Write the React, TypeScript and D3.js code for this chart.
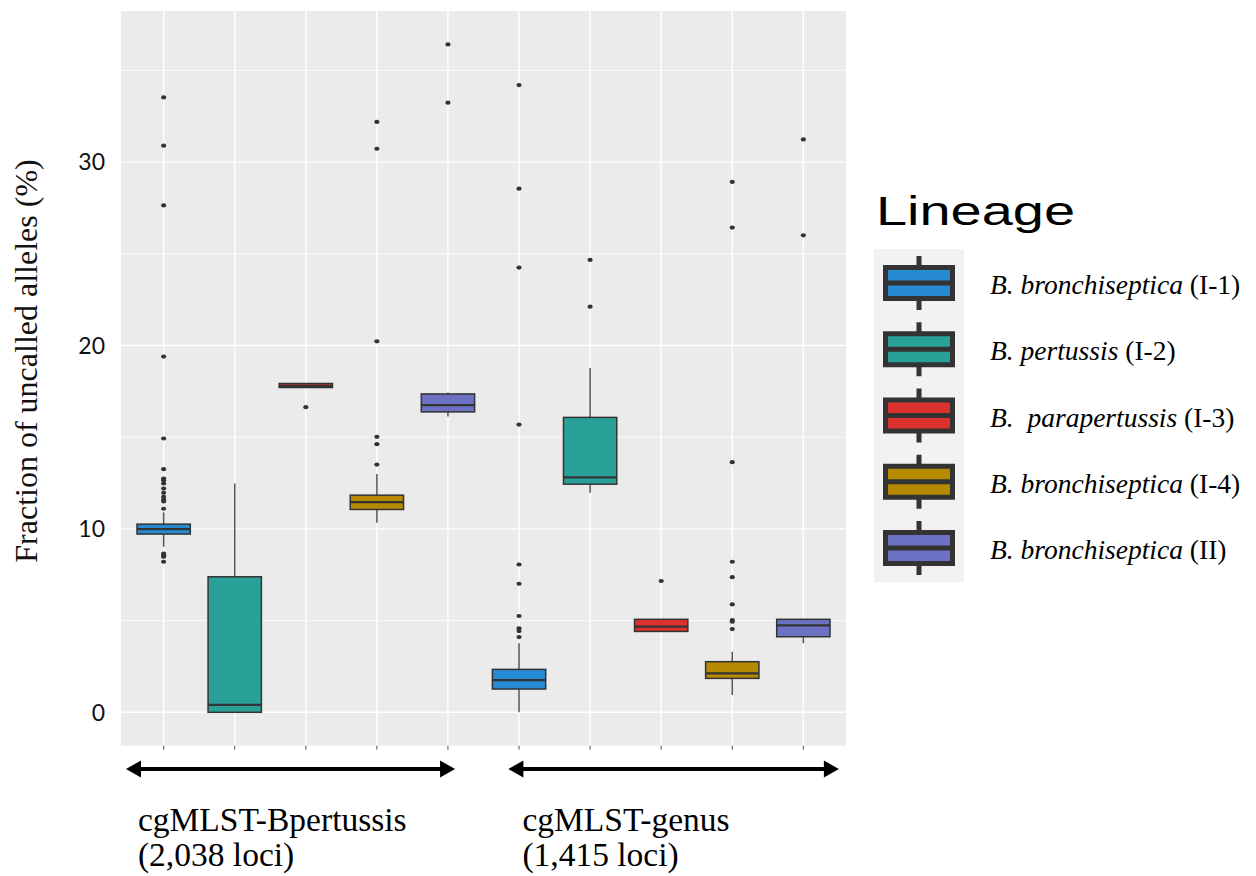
import React, { useRef, useEffect } from 'react';
import * as d3 from 'd3';

// lineages (legend order) and typing schemes
const lineages = ['I-1', 'I-2', 'I-3', 'I-4', 'II'];
const speciesNames = ['B. bronchiseptica', 'B. pertussis', 'B.  parapertussis', 'B. bronchiseptica', 'B. bronchiseptica'];
const lineageColors = ['#268BD2', '#2AA198', '#DC322F', '#B58900', '#6C71C4'];
const schemes = ['cgMLST-Bpertussis', 'cgMLST-genus'];
const schemeLoci = ['(2,038 loci)', '(1,415 loci)'];

// box stats, scheme x lineage order (10 boxes)
const q1Values = [9.72, 0, 17.71, 11.06, 16.38, 1.27, 12.44, 4.41, 1.85, 4.12];
const medianValues = [9.99, 0.4, 17.8, 11.46, 16.75, 1.76, 12.81, 4.67, 2.12, 4.74];
const q3Values = [10.26, 7.39, 17.93, 11.84, 17.36, 2.34, 16.08, 5.07, 2.76, 5.07];
const lowerWhiskers = [9.02, 0, 17.71, 10.33, 16.13, 0, 11.97, 4.41, 0.94, 3.76];
const upperWhiskers = [10.9, 12.48, 17.93, 12.99, 17.44, 3.76, 18.78, 5.07, 3.3, 5.07];
const outlierValues = [
  [8.21, 8.48, 8.57, 8.66, 11.1, 11.5, 11.6, 11.75, 11.97, 12.2, 12.48, 12.66, 12.75, 13.26, 14.93, 19.4, 27.64, 30.9, 33.53],
  [],
  [16.64],
  [13.51, 14.62, 15.02, 20.23, 30.73, 32.19],
  [33.24, 36.42],
  [4.1, 4.43, 4.58, 5.25, 7.01, 8.06, 15.69, 24.25, 28.55, 34.2],
  [22.12, 24.67],
  [7.16],
  [4.54, 4.94, 5.03, 5.88, 7.37, 8.21, 13.64, 26.43, 28.92],
  [26.01, 31.24],
];

const yMajorTicks = [0, 10, 20, 30];
const yMinorTicks = [5, 15, 25, 35];

// arrow extents in category-index units
const schemeSpans = [[-0.53, 4.1], [4.85, 9.5]];

const App = () => {
  const svgRef = useRef(null);

  useEffect(() => {
    const svg = d3.select(svgRef.current);
    svg.selectAll('*').remove();

    const panel = { left: 121, right: 846, top: 11, bottom: 745.7 };

    const keys = schemes.flatMap(s => lineages.map(l => `${s}|${l}`));
    const boxes = keys.map((k, i) => ({
      key: k,
      color: lineageColors[i % 5],
      q1: q1Values[i], med: medianValues[i], q3: q3Values[i],
      lo: lowerWhiskers[i], hi: upperWhiskers[i],
      out: outlierValues[i],
    }));

    const x = d3.scaleBand()
      .domain(keys)
      .range([panel.left, panel.right])
      .paddingInner(0)
      .paddingOuter(0.1);
    const step = x.step();
    const cx = k => x(k) + x.bandwidth() / 2;
    const idxX = d3.scaleLinear().domain([0, 1]).range([cx(keys[0]), cx(keys[0]) + step]);

    const allMax = d3.max(boxes, b => d3.max([b.hi, ...b.out]));
    const pad = (allMax - 0) * 0.05;
    const y = d3.scaleLinear()
      .domain([0 - pad, allMax + pad])
      .range([panel.bottom, panel.top]);

    // panel background
    svg.append('rect')
      .attr('x', panel.left).attr('y', panel.top)
      .attr('width', panel.right - panel.left)
      .attr('height', panel.bottom - panel.top)
      .attr('fill', '#EBEBEB');

    // grid
    svg.append('g').selectAll('line')
      .data(yMinorTicks).enter().append('line')
      .attr('x1', panel.left).attr('x2', panel.right)
      .attr('y1', d => y(d)).attr('y2', d => y(d))
      .attr('stroke', '#fff').attr('stroke-width', 0.7);
    svg.append('g').selectAll('line')
      .data(yMajorTicks).enter().append('line')
      .attr('x1', panel.left).attr('x2', panel.right)
      .attr('y1', d => y(d)).attr('y2', d => y(d))
      .attr('stroke', '#fff').attr('stroke-width', 1.4);
    svg.append('g').selectAll('line')
      .data(keys).enter().append('line')
      .attr('x1', d => cx(d)).attr('x2', d => cx(d))
      .attr('y1', panel.top).attr('y2', panel.bottom)
      .attr('stroke', '#fff').attr('stroke-width', 1.4);

    // x ticks
    svg.append('g').selectAll('line')
      .data(keys).enter().append('line')
      .attr('x1', d => cx(d)).attr('x2', d => cx(d))
      .attr('y1', panel.bottom).attr('y2', panel.bottom + 4)
      .attr('stroke', '#555').attr('stroke-width', 1);

    // y tick labels
    svg.append('g').selectAll('text')
      .data(yMajorTicks).enter().append('text')
      .attr('x', 105).attr('y', d => y(d))
      .attr('dy', '0.36em')
      .attr('text-anchor', 'end')
      .attr('font-family', 'Lato, sans-serif')
      .attr('font-size', 23)
      .attr('fill', '#111')
      .text(d => d);

    // y axis title
    svg.append('text')
      .attr('transform', 'translate(37,361) rotate(-90)')
      .attr('text-anchor', 'middle')
      .attr('font-family', '"Liberation Serif", "Times New Roman", serif')
      .attr('font-size', 32)
      .attr('fill', '#111')
      .text('Fraction of uncalled alleles (%)');

    // boxplots
    const bw = x.bandwidth() * 0.75;
    const g = svg.append('g');
    boxes.forEach(b => {
      const c = cx(b.key);
      g.append('line')
        .attr('x1', c).attr('x2', c)
        .attr('y1', y(b.hi)).attr('y2', y(b.q3))
        .attr('stroke', '#555').attr('stroke-width', 1.5);
      g.append('line')
        .attr('x1', c).attr('x2', c)
        .attr('y1', y(b.q1)).attr('y2', y(b.lo))
        .attr('stroke', '#555').attr('stroke-width', 1.5);
      g.append('rect')
        .attr('x', c - bw / 2).attr('width', bw)
        .attr('y', y(b.q3)).attr('height', Math.max(1, y(b.q1) - y(b.q3)))
        .attr('fill', b.color)
        .attr('stroke', '#333').attr('stroke-width', 1.5);
      g.append('line')
        .attr('x1', c - bw / 2).attr('x2', c + bw / 2)
        .attr('y1', y(b.med)).attr('y2', y(b.med))
        .attr('stroke', '#333').attr('stroke-width', 2.2);
      g.selectAll(null)
        .data(b.out).enter().append('ellipse')
        .attr('cx', c).attr('cy', d => y(d))
        .attr('rx', 2.6).attr('ry', 2.1)
        .attr('fill', '#333');
    });

    // scheme arrows + labels
    const arrowG = svg.append('g');
    const ay = 769;
    schemeSpans.forEach(([a, b], i) => {
      const x1 = idxX(a), x2 = idxX(b);
      const head = 15, half = 8.5;
      arrowG.append('line')
        .attr('x1', x1 + head - 2).attr('x2', x2 - head + 2)
        .attr('y1', ay).attr('y2', ay)
        .attr('stroke', '#000').attr('stroke-width', 4);
      arrowG.append('path')
        .attr('d', `M${x1},${ay} L${x1 + head},${ay - half} L${x1 + head},${ay + half} Z`)
        .attr('fill', '#000');
      arrowG.append('path')
        .attr('d', `M${x2},${ay} L${x2 - head},${ay - half} L${x2 - head},${ay + half} Z`)
        .attr('fill', '#000');

      const tx = i === 0 ? idxX(a) + 12 : idxX(b - 4.65) + 14;
      const t = arrowG.append('text')
        .attr('font-family', '"Liberation Serif", "Times New Roman", serif')
        .attr('font-size', 33.5)
        .attr('fill', '#000');
      t.append('tspan').attr('x', tx).attr('y', 831).text(schemes[i]);
      t.append('tspan').attr('x', tx).attr('y', 866).text(schemeLoci[i]);
    });

    // legend
    const lg = svg.append('g');
    lg.append('text')
      .attr('x', 876).attr('y', 225)
      .attr('font-family', '"Liberation Sans", Arial, sans-serif')
      .attr('font-size', 40)
      .attr('textLength', 199)
      .attr('lengthAdjust', 'spacingAndGlyphs')
      .attr('fill', '#000')
      .text('Lineage');
    lg.append('rect')
      .attr('x', 874).attr('y', 249)
      .attr('width', 90).attr('height', 333)
      .attr('fill', '#F2F2F2');

    const ly = d3.scalePoint().domain(lineages).range([283, 548]);
    lineages.forEach((l, i) => {
      const yc = ly(l);
      const kx = 919;
      lg.append('line')
        .attr('x1', kx).attr('x2', kx)
        .attr('y1', yc - 27).attr('y2', yc + 27)
        .attr('stroke', '#333').attr('stroke-width', 5);
      lg.append('rect')
        .attr('x', 885.5).attr('y', yc - 15.5)
        .attr('width', 67).attr('height', 31)
        .attr('fill', lineageColors[i])
        .attr('stroke', '#333').attr('stroke-width', 5);
      lg.append('line')
        .attr('x1', 885.5).attr('x2', 952.5)
        .attr('y1', yc).attr('y2', yc)
        .attr('stroke', '#333').attr('stroke-width', 5);
      const t = lg.append('text')
        .attr('x', 990).attr('y', yc + 11)
        .attr('font-family', '"Liberation Serif", "Times New Roman", serif')
        .attr('font-size', 27.5)
        .attr('fill', '#000')
        .style('white-space', 'pre');
      t.append('tspan').attr('font-style', 'italic').text(speciesNames[i]);
      t.append('tspan').text(` (${l})`);
    });
  }, []);

  return (
    <svg ref={svgRef} width={1256} height={876}
      style={{ position: 'absolute', left: 0, top: 0, background: '#fff' }} />
  );
};

export default App;
